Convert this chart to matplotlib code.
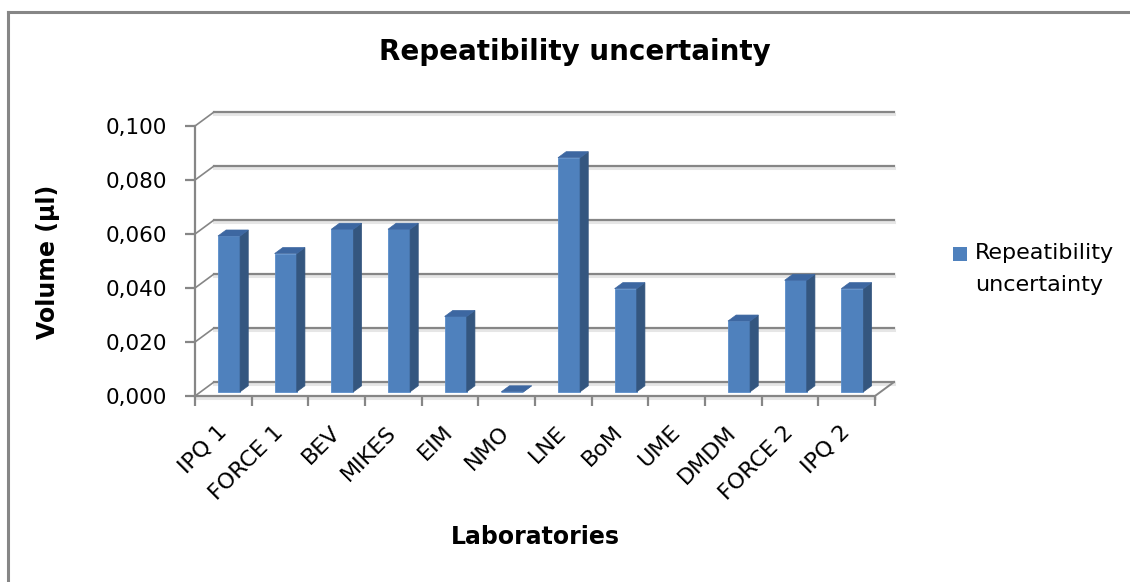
import matplotlib
matplotlib.use("Agg")
import matplotlib.pyplot as plt
import matplotlib.transforms as mtransforms
from matplotlib.patches import Polygon
import numpy as np

# data
laboratories = ["IPQ 1", "FORCE 1", "BEV", "MIKES", "EIM", "NMO",
                "LNE", "BoM", "UME", "DMDM", "FORCE 2", "IPQ 2"]
repeatability = [0.0577, 0.0512, 0.0602, 0.0602, 0.0279, 0.0,
                 0.0867, 0.0382, np.nan, 0.0262, 0.0413, 0.0382]
y_ticks = [0.0, 0.02, 0.04, 0.06, 0.08, 0.10]
y_tick_labels = ["0,000", "0,020", "0,040", "0,060", "0,080", "0,100"]

GRID = "#868686"
FRONT = "#4F81BD"
SIDE = "#34567F"
TOP = "#3D67A1"

fig = plt.figure(figsize=(11.3, 5.82), dpi=100)
ax = fig.add_axes([195 / 1130, 1 - 396 / 582, 680 / 1130, 270 / 582])
n = len(laboratories)
ax.set_xlim(-0.5, n - 0.5)
ax.set_ylim(0, 0.1)

# depth of the fake 3d box, in data units (19 px x 14 px)
DX = 19 / (680 / n)
DY = 14 / 2700
f0, f1 = 0.3, 0.73
w = 0.39

shadow = ax.transData + mtransforms.ScaledTranslation(0, -1.8 / 100, fig.dpi_scale_trans)

# back wall gridlines + side wall diagonals
for v in y_ticks:
    ax.plot([-0.5 + DX, n - 0.5 + DX], [v + DY, v + DY], color="#e6e6e6", lw=2.2,
            transform=shadow, clip_on=False, zorder=1)
    ax.plot([-0.5 + DX, n - 0.5 + DX], [v + DY, v + DY], color=GRID, lw=1.6,
            clip_on=False, zorder=2)
    ax.plot([-0.5, -0.5 + DX], [v, v + DY], color=GRID, lw=1.2, clip_on=False, zorder=2)

# floor front edge and right diagonal
ax.plot([-0.5, n - 0.5], [0, 0], color="#e6e6e6", lw=2.2, transform=shadow,
        clip_on=False, zorder=1)
ax.plot([n - 0.5, n - 0.5 + DX], [0, DY], color=GRID, lw=1.4, clip_on=False, zorder=2)

for s in ["top", "right"]:
    ax.spines[s].set_visible(False)
for s in ["left", "bottom"]:
    ax.spines[s].set_color(GRID)
    ax.spines[s].set_linewidth(1.6)
ax.patch.set_visible(False)

x = np.arange(n)
vals = np.array(repeatability)
ok = ~np.isnan(vals)
ax.bar(x[ok] + f0 * DX, vals[ok], width=w, bottom=f0 * DY, color=FRONT,
       edgecolor="#5A8DCB", linewidth=0.6, clip_on=False, zorder=3)

ddx, ddy = (f1 - f0) * DX, (f1 - f0) * DY
for xi, v in zip(x[ok], vals[ok]):
    x0 = xi - w / 2 + f0 * DX
    x1 = x0 + w
    y0 = f0 * DY
    side = [(x1, y0), (x1 + ddx, y0 + ddy), (x1 + ddx, y0 + v + ddy), (x1, y0 + v)]
    top = [(x0, y0 + v), (x1, y0 + v), (x1 + ddx, y0 + v + ddy), (x0 + ddx, y0 + v + ddy)]
    ax.add_patch(Polygon(side, closed=True, facecolor=SIDE, edgecolor=SIDE,
                         lw=0.5, clip_on=False, zorder=3))
    ax.add_patch(Polygon(top, closed=True, facecolor=TOP, edgecolor=TOP,
                         lw=0.5, clip_on=False, zorder=3))

ax.set_yticks(y_ticks)
ax.set_yticklabels(y_tick_labels, fontsize=15.5)
ax.set_xticks(np.arange(-0.5, n, 1))
ax.set_xticklabels([])
ax.tick_params(axis="both", direction="out", length=7, width=1.6, color=GRID)
ax.tick_params(axis="y", pad=13)

lab_off = mtransforms.ScaledTranslation(0, -33 / 100, fig.dpi_scale_trans)
for xi, lab in zip(x, laboratories):
    ax.text(xi, 0, lab, rotation=45, rotation_mode="anchor", ha="right", va="center",
            fontsize=16, transform=ax.transData + lab_off)

fig.text(575 / 1130, 1 - 52 / 582, "Repeatibility uncertainty", fontsize=20,
         fontweight="bold", ha="center", va="center")
fig.text(535 / 1130, 1 - 537 / 582, "Laboratories", fontsize=17,
         fontweight="bold", ha="center", va="center")
fig.text(48 / 1130, 1 - 262 / 582, "Volume (µl)", fontsize=17, fontweight="bold",
         rotation=90, ha="center", va="center")

# legend
fig.patches.append(plt.Rectangle((953 / 1130, 1 - 261 / 582), 14 / 1130, 14 / 582,
                                 transform=fig.transFigure, facecolor=FRONT,
                                 edgecolor="none"))
fig.text(975 / 1130, 1 - 253 / 582, "Repeatibility", fontsize=16, va="center")
fig.text(975 / 1130, 1 - 285 / 582, "uncertainty", fontsize=16, va="center")

# chart area border (only left and top visible)
fig.add_artist(plt.Line2D([8 / 1130, 8 / 1130], [0, 1 - 12 / 582], color=GRID,
                          lw=2.2, transform=fig.transFigure))
fig.add_artist(plt.Line2D([8 / 1130, 1], [1 - 12 / 582, 1 - 12 / 582], color=GRID,
                          lw=2.2, transform=fig.transFigure))

fig.savefig("out.png", dpi=100)
plt.close("all")
